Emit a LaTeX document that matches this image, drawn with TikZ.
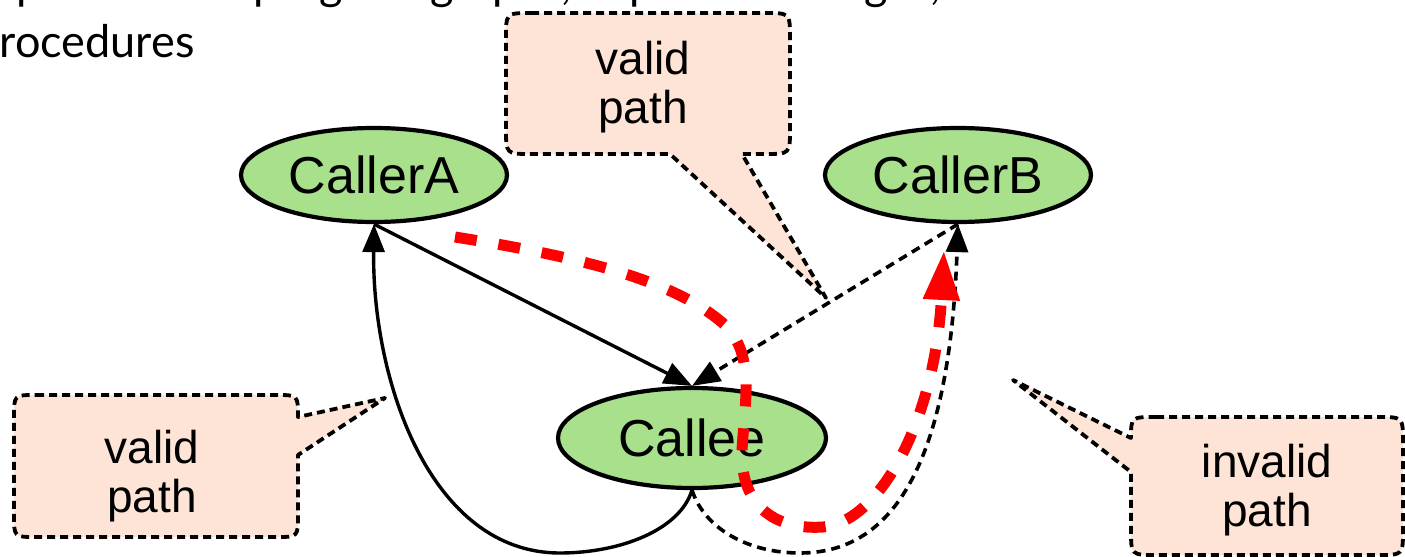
\documentclass[tikz,border=0pt]{standalone}
\usepackage{fontspec}
\setmainfont{Liberation Sans}
\newfontfamily\slidefont{Lato}
\usetikzlibrary{arrows.meta,shapes.geometric}

\definecolor{nodegreen}{HTML}{A8E08C}
\definecolor{calloutfill}{HTML}{FDE4D6}
\definecolor{pathred}{HTML}{FF0000}

\begin{document}
\begin{tikzpicture}[x=0.5pt,y=-0.5pt,
  proc/.style={ellipse, draw=black, line width=2.1pt, fill=nodegreen, minimum width=133pt, minimum height=47pt, inner sep=0pt, font=\fontsize{26}{30}\selectfont},
  callout/.style={draw=black, fill=calloutfill, line width=1.9pt, line join=round, dash pattern=on 4pt off 2.5pt},
  ctext/.style={align=center, font=\fontsize{23}{24.5}\selectfont, inner sep=0pt},
  solidedge/.style={draw=black, line width=1.7pt, -{Triangle[length=14pt,width=11pt]}},
  dashedge/.style={draw=black, line width=1.8pt, dash pattern=on 4.5pt off 3pt, -{Triangle[length=14pt,width=11pt]}},
  redpath/.style={draw=pathred, line width=5.5pt, dash pattern=on 11pt off 11pt, -{Triangle[length=25pt,width=17pt]}},
  slide/.style={font=\slidefont\fontsize{22.5}{29}\selectfont, anchor=base west, inner sep=0pt}
]
\useasboundingbox (0,0) rectangle (1405,557);
\clip (0,0) rectangle (1405,557);

% slide text (cut off)
\node[slide] (t1) at (-76,-1) {Compose all the program graphs, expand call edges, connect};
\node[slide] (t2) at (-26,57) {procedures};

% callouts
\draw[callout] (36,395) -- (276,395) .. controls (298,395) .. (298,417) -- (385,398) -- (298,455) -- (298,515) .. controls (298,537) .. (276,537) -- (36,537) .. controls (14,537) .. (14,515) -- (14,417) .. controls (14,395) .. (36,395) -- cycle;
\node[ctext] (l1) at (152,476) {valid\\path};

\draw[callout] (531,13) -- (765,13) .. controls (790,13) .. (790,38) -- (790,129) .. controls (790,154) .. (765,154) -- (742,154) -- (826,298) -- (670,154) -- (531,154) .. controls (506,154) .. (506,129) -- (506,38) .. controls (506,13) .. (531,13) -- cycle;
\node[ctext] (l2) at (643,87) {valid\\path};

\draw[callout] (1156,417) -- (1378,417) .. controls (1403,417) .. (1403,442) -- (1403,530) .. controls (1403,555) .. (1378,555) -- (1156,555) .. controls (1131,555) .. (1131,530) -- (1131,472) -- (1013,380) -- (1131,438) .. controls (1131,417) .. (1156,417) -- cycle;
\node[ctext] (l3) at (1267,490) {invalid\\path};

% procedure nodes
\node[proc] (A) at (374,175) {CallerA};
\node[proc] (B) at (958,175) {CallerB};
\node[proc, minimum width=134pt, minimum height=50pt] (C) at (692,438) {Callee};

% edges
\draw[solidedge] (A.south) -- (C.north);
\draw[dashedge] (B.south) -- (C.north);
\draw[solidedge] (C.south) .. controls (680,530) and (620,553) .. (560,553) .. controls (430,553) and (372,380) .. (A.south);
\draw[dashedge] (C.south) .. controls (705,530) and (750,553) .. (800,553) .. controls (900,553) and (950,450) .. (B.south);

% red path
\coordinate (r0) at (455,237);
\coordinate (r1) at (944,250);
\draw[redpath] (r0) .. controls (600,260) and (680,285) .. (725,325) .. controls (755,355) and (745,400) .. (742,450) .. controls (740,510) and (780,530) .. (823,527) .. controls (880,522) and (935,420) .. (r1);
\end{tikzpicture}
\end{document}
